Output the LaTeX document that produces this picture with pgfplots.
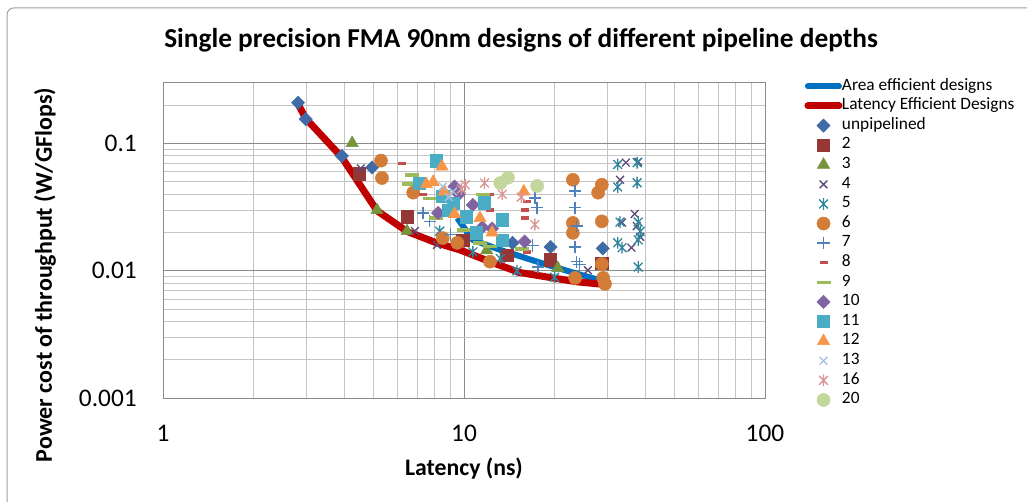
\documentclass[border=0pt]{standalone}
\usepackage{fontspec}
\setmainfont{Carlito}
\usepackage{pgfplots}
\pgfplotsset{compat=1.18}

\definecolor{areablue}{HTML}{0070C0}
\definecolor{latred}{HTML}{C00000}
\definecolor{cUnp}{HTML}{3F6CA6}
\definecolor{cTwo}{HTML}{953735}
\definecolor{cThree}{HTML}{77933C}
\definecolor{cFour}{HTML}{604A7B}
\definecolor{cFive}{HTML}{31859C}
\definecolor{cSix}{HTML}{D27C38}
\definecolor{cSeven}{HTML}{4F81BD}
\definecolor{cEight}{HTML}{C0504D}
\definecolor{cNine}{HTML}{9BBB59}
\definecolor{cTen}{HTML}{8064A2}
\definecolor{cEleven}{HTML}{4BACC6}
\definecolor{cTwelve}{HTML}{F79646}
\definecolor{cThirteen}{HTML}{A7BDE0}
\definecolor{cSixteen}{HTML}{DA9694}
\definecolor{cTwenty}{HTML}{C3D69B}
\definecolor{gridmaj}{HTML}{8C8C8C}
\definecolor{gridmin}{HTML}{C4C4C4}
\definecolor{frame}{HTML}{A0A0A0}

% star marker: an x with a vertical stroke through it
\pgfdeclareplotmark{xstar}{%
  \pgfpathmoveto{\pgfqpoint{0pt}{\pgfplotmarksize}}%
  \pgfpathlineto{\pgfqpoint{0pt}{-\pgfplotmarksize}}%
  \pgfpathmoveto{\pgfqpoint{-.75\pgfplotmarksize}{-.75\pgfplotmarksize}}%
  \pgfpathlineto{\pgfqpoint{.75\pgfplotmarksize}{.75\pgfplotmarksize}}%
  \pgfpathmoveto{\pgfqpoint{-.75\pgfplotmarksize}{.75\pgfplotmarksize}}%
  \pgfpathlineto{\pgfqpoint{.75\pgfplotmarksize}{-.75\pgfplotmarksize}}%
  \pgfusepathqstroke}
% short and long dash markers
\pgfdeclareplotmark{sdash}{%
  \pgfpathrectangle{\pgfqpoint{-3pt}{-1.3pt}}{\pgfqpoint{6pt}{2.6pt}}%
  \pgfusepathqfill}
\pgfdeclareplotmark{ldash}{%
  \pgfpathrectangle{\pgfqpoint{-5.25pt}{-1.3pt}}{\pgfqpoint{10.5pt}{2.6pt}}%
  \pgfusepathqfill}

% legend samples: fixed-size cells, a short thick line or a single marker
\newcommand\legbox{\pgfpathrectangle{\pgfqpoint{0pt}{-5pt}}{\pgfqpoint{27.75pt}{10pt}}\pgfusepath{use as bounding box}}
\pgfplotsset{
  lineleg/.style={legend image code/.code={%
      \legbox
      \draw[##1, line cap=round] (2.2pt,0pt) -- (25.5pt,0pt);}},
  markleg/.style={legend image code/.code={%
      \legbox
      \draw[##1] plot coordinates {(13.9pt,0pt)};}},
  sc/.style={only marks, markleg, mark options={draw=#1, fill=#1}, color=#1},
}

\begin{document}
\begin{tikzpicture}[x=1pt,y=1pt]
\path[use as bounding box] (0,0) rectangle (770.25,376.5);
\draw[frame, line width=0.75pt, rounded corners=5pt] (5.25,-10) rectangle (785,370.5);

\begin{axis}[
  at={(122.25pt,78pt)}, anchor=south west,
  scale only axis, width=451.5pt, height=236.25pt,
  xmode=log, ymode=log,
  xmin=1, xmax=100, ymin=0.001, ymax=0.3,
  xtick={1,10,100}, xticklabels={1,10,100},
  ytick={0.001,0.01,0.1}, yticklabels={0.001,0.01,0.1},
  minor xtick={2,3,4,5,6,7,8,9,20,30,40,50,60,70,80,90},
  minor ytick={0.002,0.003,0.004,0.005,0.006,0.007,0.008,0.009,0.02,0.03,0.04,0.05,0.06,0.07,0.08,0.09,0.2},
  grid=both,
  major grid style={color=gridmaj, line width=0.75pt},
  minor grid style={color=gridmin, line width=0.75pt},
  axis line style={color=gridmaj, line width=0.75pt},
  major tick length=0pt, minor tick length=0pt,
  xticklabel style={font=\fontsize{19}{22}\selectfont, anchor=center, inner sep=0pt, yshift=-26.25pt},
  yticklabel style={font=\fontsize{19}{22}\selectfont, anchor=east, inner sep=0pt, xshift=-19.5pt},
  legend style={draw=none, fill=none, inner sep=0pt, outer sep=0pt,
    at={(1.0664,1.0205)}, anchor=north west,
    row sep=0pt, column sep=0pt,
    nodes={inner sep=0pt, text height=10.2pt, text depth=4.5pt,
      font=\fontsize{13}{15}\selectfont}},
  legend cell align=left,
]

% design-space frontiers
\addplot[areablue, line width=4.5pt, line join=round, lineleg] coordinates {
 (9.5,0.026) (10.7,0.0175) (13.2,0.0146) (17.9,0.0116) (23,0.0097) (27,0.0087) (29,0.0083)};
\addlegendentry{Area efficient designs}
\addplot[latred, line width=5.25pt, line join=round, lineleg] coordinates {
 (2.81,0.205) (2.98,0.158) (3.93,0.078) (5.14,0.0297) (6.47,0.0204) (8.1,0.0166)
 (9.7,0.0146) (12.2,0.0118) (15.3,0.0097) (19.7,0.0088) (23.7,0.0082) (29.4,0.0078)};
\addlegendentry{Latency Efficient Designs}

% individual designs, grouped by pipeline depth
\addplot[sc=cUnp, mark=square*, mark size=3.5pt, mark options={rotate=45}] coordinates {
 (2.81,0.21) (2.98,0.156) (3.93,0.08) (4.95,0.065) (14.5,0.0166) (19.4,0.0154) (28.9,0.015)};
\addlegendentry{unpipelined}
\addplot[sc=cTwo, mark=square*, mark size=4.6pt] coordinates {
 (4.49,0.058) (6.47,0.0266) (9.9,0.0175) (13.9,0.0133) (19.3,0.0122) (28.7,0.0115)};
\addlegendentry{2}
\addplot[sc=cThree, mark=triangle*, mark size=5.3pt] coordinates {
 (4.25,0.101) (5.14,0.030) (6.47,0.0205) (11.9,0.0145) (20.5,0.0105)};
\addlegendentry{3}
\addplot[sc=cFour, mark=x, mark size=4.1pt, line width=1pt] coordinates {
 (4.54,0.064) (6.87,0.0206) (8.13,0.016) (25.8,0.0101) (34.5,0.071) (37.9,0.072)
 (33,0.052) (36.9,0.028) (33.5,0.024) (38.5,0.0185) (36,0.0152) (37.5,0.0225)};
\addlegendentry{4}
\addplot[sc=cFive, mark=xstar, mark size=4.4pt, line width=1pt] coordinates {
 (8.3,0.0205) (10.7,0.0141) (13.2,0.0125) (15,0.01) (20,0.0089) (32.4,0.0687)
 (37.6,0.0709) (32.4,0.0457) (37.6,0.0493) (33,0.0242) (37.9,0.0242) (38.5,0.0204)
 (37.9,0.0175) (32.4,0.0166) (33.5,0.0152) (37.9,0.0107)};
\addlegendentry{5}
\addplot[sc=cSix, mark=*, mark size=4.9pt] coordinates {
 (5.3,0.0736) (5.34,0.0537) (6.78,0.0412) (8.5,0.0181) (9.5,0.0166) (12.2,0.0118)
 (23,0.052) (28.7,0.0475) (27.9,0.0412) (23,0.0238) (23,0.0199) (28.7,0.0245)
 (28.7,0.0113) (23.4,0.0088) (29,0.0088) (29.4,0.0079)};
\addlegendentry{6}
\addplot[sc=cSeven, mark=+, mark size=4.6pt, line width=1pt] coordinates {
 (7.3,0.0285) (7.7,0.0245) (9.0,0.0193) (17.2,0.0375) (17.5,0.0313) (16.9,0.0158)
 (17.6,0.0107) (23.4,0.0425) (23.4,0.0313) (23.7,0.0225) (23.4,0.0154) (23.7,0.0118)
 (24.2,0.0112)};
\addlegendentry{7}
\addplot[sc=cEight, mark=sdash] coordinates {
 (6.23,0.070) (7.3,0.040) (12.2,0.040) (12.2,0.030) (16.2,0.035) (15.9,0.030)
 (15.9,0.026) (16.2,0.0141)};
\addlegendentry{8}
\addplot[sc=cNine, mark=ldash] coordinates {
 (6.7,0.0566) (6.55,0.048) (7.7,0.037) (8.1,0.026) (10.0,0.021) (11.3,0.0165)
 (12.2,0.0155) (15.6,0.0148) (11.6,0.040)};
\addlegendentry{9}
\addplot[sc=cTen, mark=square*, mark size=3.5pt, mark options={rotate=45}] coordinates {
 (8.2,0.0285) (9.3,0.046) (10.7,0.033) (12.4,0.0215) (15.9,0.017) (11.5,0.022) (9.6,0.040)};
\addlegendentry{10}
\addplot[sc=cEleven, mark=square*, mark size=4.6pt] coordinates {
 (8.1,0.0735) (7.1,0.049) (8.5,0.0385) (9.2,0.034) (10.2,0.0266) (11.7,0.0343)
 (13.4,0.0252) (11.0,0.0199) (13.4,0.0175) (8.9,0.030)};
\addlegendentry{11}
\addplot[sc=cTwelve, mark=triangle*, mark size=5.3pt] coordinates {
 (8.45,0.066) (7.5,0.048) (8.6,0.042) (9.3,0.028) (11.3,0.026) (12.4,0.020)
 (15.8,0.042) (7.9,0.050)};
\addlegendentry{12}
\addplot[sc=cThirteen, mark=x, mark size=4.1pt, line width=1pt] coordinates {
 (8.5,0.046) (9.2,0.042) (8.9,0.038)};
\addlegendentry{13}
\addplot[sc=cSixteen, mark=xstar, mark size=4.4pt, line width=1pt] coordinates {
 (10.1,0.0475) (9.8,0.044) (11.7,0.049) (13.4,0.04) (15.5,0.038) (17.2,0.0231)};
\addlegendentry{16}
\addplot[sc=cTwenty, mark=*, mark size=4.9pt] coordinates {
 (13.2,0.049) (14.0,0.054) (17.5,0.0465)};
\addlegendentry{20}
\end{axis}

\node[font=\fontsize{20.5}{24}\bfseries] at (390.75,346.5)
  {Single precision FMA 90nm designs of different pipeline depths};
\node[font=\fontsize{17.8}{21}\bfseries] at (348,24.75) {Latency (ns)};
\node[rotate=90, font=\fontsize{18}{21}\bfseries] at (33.75,170.25)
  {Power cost of throughput (W/GFlops)};
\end{tikzpicture}
\end{document}
